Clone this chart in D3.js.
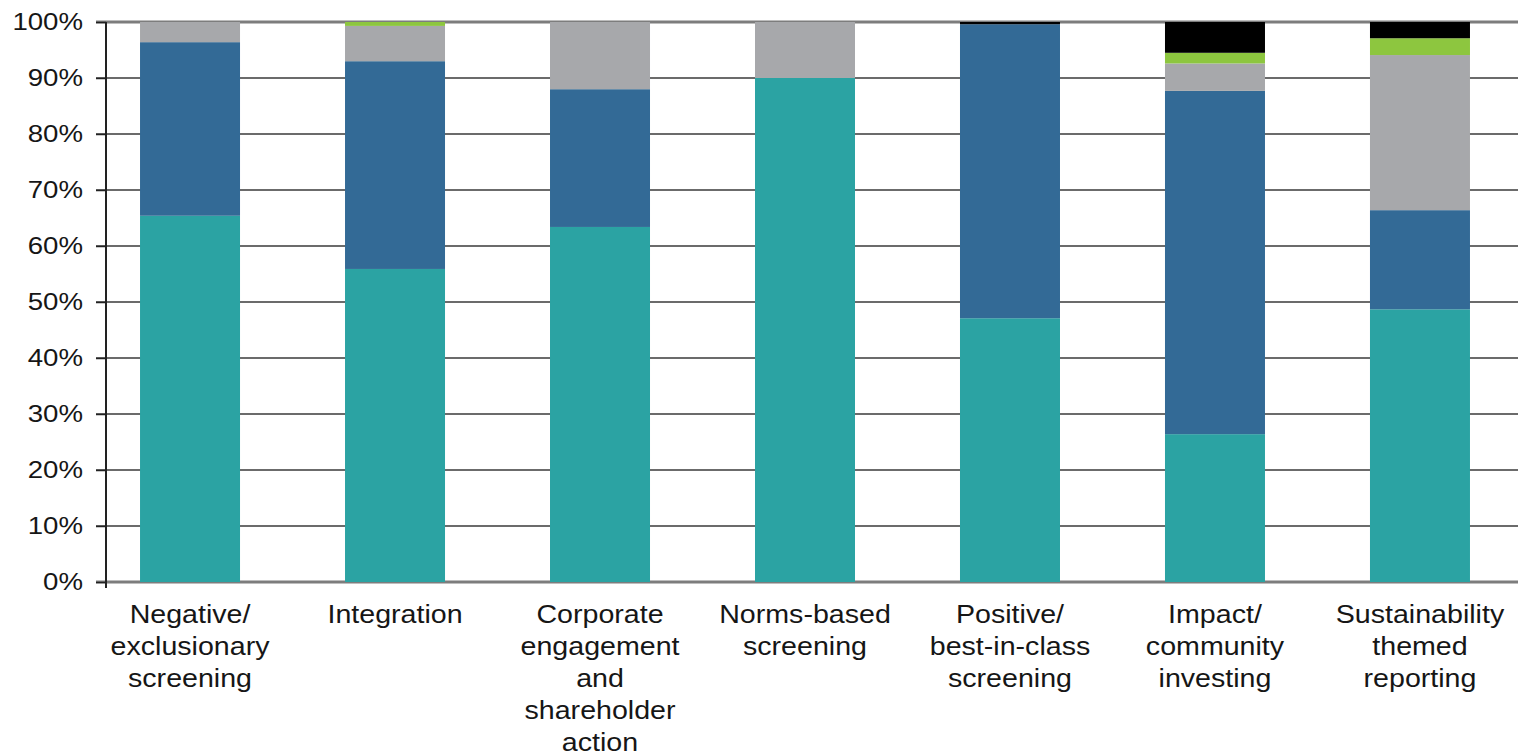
<!DOCTYPE html>
<html>
<head>
<meta charset="utf-8">
<script src="https://cdn.jsdelivr.net/npm/d3@7"></script>
<style>
  html, body { margin: 0; padding: 0; background: #fff; }
  svg { display: block; }
  text { font-family: "Liberation Sans", Arial, Helvetica, sans-serif; fill: #161616; }
</style>
</head>
<body>
<svg id="chart" width="1518" height="756"></svg>
<script>
const categories = [
  ["Negative/", "exclusionary", "screening"],
  ["Integration"],
  ["Corporate", "engagement", "and", "shareholder", "action"],
  ["Norms-based", "screening"],
  ["Positive/", "best-in-class", "screening"],
  ["Impact/", "community", "investing"],
  ["Sustainability", "themed", "reporting"]
];
const seriesNames = ["s1", "s2", "s3", "s4", "s5"];
const s1 = [65.4, 55.9, 63.4, 90.0, 47.1, 26.4, 48.7];
const s2 = [31.0, 37.1, 24.6, 0.0, 52.5, 61.3, 17.7];
const s3 = [3.6, 6.3, 12.0, 10.0, 0.0, 4.9, 27.7];
const s4 = [0.0, 0.7, 0.0, 0.0, 0.0, 1.9, 3.0];
const s5 = [0.0, 0.0, 0.0, 0.0, 0.4, 5.5, 2.9];
const colors = ["#2ba3a3", "#336a96", "#a7a8ab", "#8dc63f", "#000000"];
const yTicks = [0, 10, 20, 30, 40, 50, 60, 70, 80, 90, 100];

const rows = categories.map((c, i) => ({
  key: i, s1: s1[i], s2: s2[i], s3: s3[i], s4: s4[i], s5: s5[i]
}));

const svg = d3.select("#chart");
const x0 = 106, x1 = 1504, yTop = 22, yBot = 582;

const x = d3.scaleBand().domain(categories.map((c, i) => i))
  .range([x0, x1]).paddingInner(0.5122).paddingOuter(0.166);
const y = d3.scaleLinear().domain([0, 100]).range([yBot, yTop]);

// gridlines
svg.append("g").selectAll("line").data(yTicks).join("line")
  .attr("x1", 96).attr("x2", 1518)
  .attr("y1", d => y(d)).attr("y2", d => y(d))
  .attr("stroke", d => (d === 100 || d === 0) ? "#7d7d7d" : "#3a3a3a")
  .attr("stroke-width", d => (d === 100 || d === 0) ? 3 : 1.6);

// stacked bars
const stack = d3.stack().keys(seriesNames)(rows);
svg.append("g").selectAll("g").data(stack).join("g")
  .attr("fill", (d, i) => colors[i])
  .selectAll("rect").data(d => d).join("rect")
  .attr("x", d => x(d.data.key))
  .attr("width", x.bandwidth())
  .attr("y", d => y(d[1]))
  .attr("height", d => Math.max(0, y(d[0]) - y(d[1])));

// y axis
const yAxis = d3.axisLeft(y).tickValues(yTicks).tickFormat(d => d + "%").tickSize(10).tickPadding(10);
const ya = svg.append("g").attr("transform", `translate(${x0},0)`).call(yAxis);
ya.select(".domain").attr("stroke", "#222").attr("stroke-width", 2).attr("d", `M0,${yTop}V${yBot + 6}`);
ya.selectAll(".tick line").attr("stroke", "#222").attr("stroke-width", 1.5);
ya.selectAll(".tick text").attr("font-size", 24).attr("fill", "#161616")
  .attr("font-family", "Liberation Sans, Arial, sans-serif")
  .attr("transform", "scale(1.15,1)");

// x labels
const xl = svg.append("g").selectAll("text").data(categories).join("text")
  .attr("text-anchor", "middle")
  .attr("font-size", 26)
  .attr("transform", (d, i) => `translate(${x(i) + x.bandwidth() / 2},0) scale(1.1,1)`);
xl.each(function(lines, i) {
  const t = d3.select(this);
  lines.forEach((ln, j) => {
    t.append("tspan").attr("x", 0).attr("y", 623 + j * 32).text(ln);
  });
});
</script>
</body>
</html>
